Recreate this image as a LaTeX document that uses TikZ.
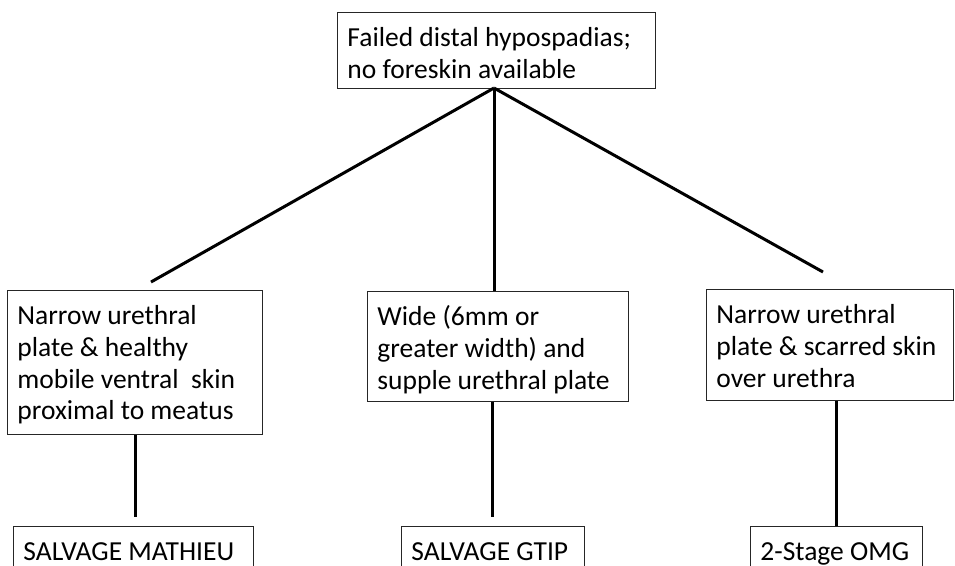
\documentclass[tikz,border=0pt]{standalone}
\usepackage{fontspec}
\setmainfont{Carlito}
\newcommand\boxtext[3]{\parbox[c][#1][t]{#2}{\vspace*{12pt}\raggedright\leftskip=10pt\strut #3}}
\begin{document}
\begin{tikzpicture}[x=1pt,y=-1pt,
  box/.style={draw=black!85, line width=0.9pt, rectangle, anchor=north west,
    inner sep=0pt, font=\fontsize{27.5}{31.7}\selectfont},
  conn/.style={draw=black, line width=3pt}]
\useasboundingbox (0,0) rectangle (955,565);
\clip (0,0) rectangle (955,565);
\fill[white] (0,0) rectangle (955,565);

\node[box] (top) at (337,12)
  {\boxtext{76pt}{318pt}{Failed distal hypospadias;\\no foreskin available}};

\node[box] (left) at (7,290)
  {\boxtext{144pt}{255pt}{Narrow urethral\\plate \& healthy\\mobile ventral~ skin\\proximal to meatus}};
\node[box] (mid) at (367,291)
  {\boxtext{110pt}{261pt}{Wide (6mm or\\greater width) and\\supple urethral plate}};
\node[box] (right) at (706,289)
  {\boxtext{111pt}{247pt}{Narrow urethral\\plate \& scarred skin\\over urethra}};

\node[box] (mathieu) at (13,526) {\boxtext{60pt}{240pt}{SALVAGE MATHIEU}};
\node[box] (gtip) at (401,526) {\boxtext{60pt}{183pt}{SALVAGE GTIP}};
\node[box] (omg) at (750,526) {\boxtext{60pt}{172pt}{2-Stage OMG}};

\coordinate (apex) at (494,88);
\coordinate (lend) at (151,282);
\coordinate (rend) at (823,272);
\coordinate (lbot) at (135,517);
\coordinate (mbot) at (492,517);
\coordinate (rx) at (836,0);

\draw[conn] (apex) -- (lend);
\draw[conn] (apex) -- (apex |- mid.north);
\draw[conn] (apex) -- (rend);
\draw[conn] (left.south -| lbot) -- (lbot);
\draw[conn] (mid.south -| mbot) -- (mbot);
\draw[conn] (right.south -| rx) -- (omg.north -| rx);
\end{tikzpicture}
\end{document}
